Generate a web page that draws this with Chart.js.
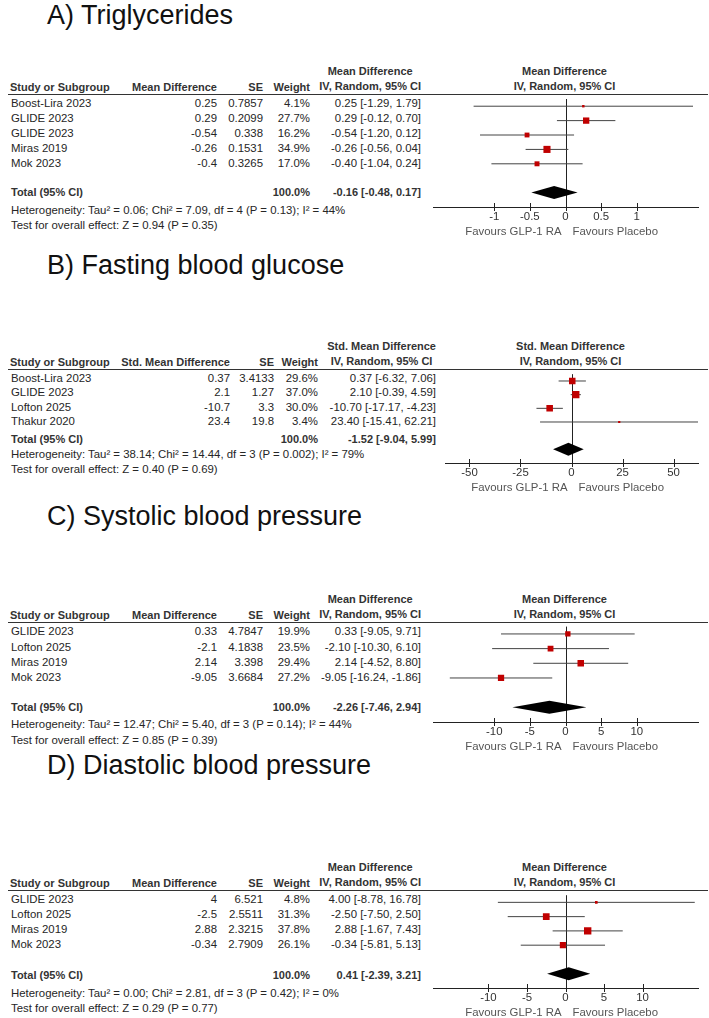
<!DOCTYPE html>
<html>
<head>
<meta charset="utf-8">
<script src="https://cdn.jsdelivr.net/npm/chart.js@4.4.1/dist/chart.umd.min.js"></script>
<style>
  html, body { margin: 0; padding: 0; background: #fff; }
  #page { position: relative; width: 709px; height: 1018px; overflow: hidden;
    font-family: "Liberation Sans", Arial, sans-serif; color: #262626; }
  .t { position: absolute; white-space: nowrap; font-size: 11.4px; line-height: 14px; }
  .b { font-weight: bold; font-size: 11px; color: #333; }
  .hdr { position: absolute; white-space: nowrap; font-weight: bold; font-size: 11px;
    line-height: 15px; color: #333; text-align: center; }
  .title { position: absolute; left: 47px; font-size: 27px; line-height: 27px; color: #111; white-space: nowrap; }
  .rule { position: absolute; left: 8px; width: 700px; height: 1px; background: #333; }
  canvas { position: absolute; left: 420px; }
</style>
</head>
<body>
<div id="page"></div>
<script>
// A) Triglycerides
const studiesA = ['Boost-Lira 2023', 'GLIDE 2023', 'GLIDE 2023', 'Miras 2019', 'Mok 2023'];
const mdA = [0.25, 0.29, -0.54, -0.26, -0.4];
const seA = [0.7857, 0.2099, 0.338, 0.1531, 0.3265];
const weightA = [4.1, 27.7, 16.2, 34.9, 17.0];
const lowerA = [-1.29, -0.12, -1.20, -0.56, -1.04];
const upperA = [1.79, 0.70, 0.12, 0.04, 0.24];
const totalA = [-0.16, -0.48, 0.17];
const hetA = 'Heterogeneity: Tau² = 0.06; Chi² = 7.09, df = 4 (P = 0.13); I² = 44%';
const testA = 'Test for overall effect: Z = 0.94 (P = 0.35)';
const ticksA = [-1, -0.5, 0, 0.5, 1];

// B) Fasting blood glucose
const studiesB = ['Boost-Lira 2023', 'GLIDE 2023', 'Lofton 2025', 'Thakur 2020'];
const smdB = [0.37, 2.1, -10.7, 23.4];
const seB = [3.4133, 1.27, 3.3, 19.8];
const weightB = [29.6, 37.0, 30.0, 3.4];
const lowerB = [-6.32, -0.39, -17.17, -15.41];
const upperB = [7.06, 4.59, -4.23, 62.21];
const totalB = [-1.52, -9.04, 5.99];
const hetB = 'Heterogeneity: Tau² = 38.14; Chi² = 14.44, df = 3 (P = 0.002); I² = 79%';
const testB = 'Test for overall effect: Z = 0.40 (P = 0.69)';
const ticksB = [-50, -25, 0, 25, 50];

// C) Systolic blood pressure
const studiesC = ['GLIDE 2023', 'Lofton 2025', 'Miras 2019', 'Mok 2023'];
const mdC = [0.33, -2.1, 2.14, -9.05];
const seC = [4.7847, 4.1838, 3.398, 3.6684];
const weightC = [19.9, 23.5, 29.4, 27.2];
const lowerC = [-9.05, -10.30, -4.52, -16.24];
const upperC = [9.71, 6.10, 8.80, -1.86];
const totalC = [-2.26, -7.46, 2.94];
const hetC = 'Heterogeneity: Tau² = 12.47; Chi² = 5.40, df = 3 (P = 0.14); I² = 44%';
const testC = 'Test for overall effect: Z = 0.85 (P = 0.39)';
const ticksC = [-10, -5, 0, 5, 10];

// D) Diastolic blood pressure
const studiesD = ['GLIDE 2023', 'Lofton 2025', 'Miras 2019', 'Mok 2023'];
const mdD = [4, -2.5, 2.88, -0.34];
const seD = [6.521, 2.5511, 2.3215, 2.7909];
const weightD = [4.8, 31.3, 37.8, 26.1];
const lowerD = [-8.78, -7.50, -1.67, -5.81];
const upperD = [16.78, 2.50, 7.43, 5.13];
const totalD = [0.41, -2.39, 3.21];
const hetD = 'Heterogeneity: Tau² = 0.00; Chi² = 2.81, df = 3 (P = 0.42); I² = 0%';
const testD = 'Test for overall effect: Z = 0.29 (P = 0.77)';
const ticksD = [-10, -5, 0, 5, 10];

const favours = ['Favours GLP-1 RA', 'Favours Placebo'];
const FONT = '"Liberation Sans", Arial, sans-serif';

const panels = [
  { title: 'A) Triglycerides', titleY: 15, line: 94, axis: 207, totalY: 192, hetY: 209.5, testY: 225,
    measure: 'Mean Difference', studies: studiesA, est: mdA, se: seA, weight: weightA,
    lower: lowerA, upper: upperA, total: totalA, het: hetA, test: testA, ticks: ticksA,
    range: 1.86, plotLeft: 433, cols: { est: 217, se: 263, weight: 310, ci: 421 } },
  { title: 'B) Fasting blood glucose', titleY: 265, line: 369, axis: 463, totalY: 439, hetY: 454, testY: 469,
    measure: 'Std. Mean Difference', studies: studiesB, est: smdB, se: seB, weight: weightB,
    lower: lowerB, upper: upperB, total: totalB, het: hetB, test: testB, ticks: ticksB,
    range: 62, plotLeft: 445, cols: { est: 230, se: 274, weight: 318, ci: 436 } },
  { title: 'C) Systolic blood pressure', titleY: 516, line: 622, axis: 722, totalY: 707, hetY: 724, testY: 740,
    measure: 'Mean Difference', studies: studiesC, est: mdC, se: seC, weight: weightC,
    lower: lowerC, upper: upperC, total: totalC, het: hetC, test: testC, ticks: ticksC,
    range: 18.6, plotLeft: 433, cols: { est: 217, se: 263, weight: 310, ci: 421 } },
  { title: 'D) Diastolic blood pressure', titleY: 765, line: 890, axis: 988, totalY: 975, hetY: 992.5, testY: 1008,
    measure: 'Mean Difference', studies: studiesD, est: mdD, se: seD, weight: weightD,
    lower: lowerD, upper: upperD, total: totalD, het: hetD, test: testD, ticks: ticksD,
    range: 17.2, plotLeft: 433, cols: { est: 217, se: 263, weight: 310, ci: 421 } }
];

const page = document.getElementById('page');

function put(text, x, y, align, cls) {
  const d = document.createElement('div');
  d.className = 't' + (cls ? ' ' + cls : '');
  d.textContent = text;
  d.style.top = (y - 7) + 'px';
  if (align === 'right') d.style.right = (709 - x) + 'px';
  else d.style.left = x + 'px';
  page.appendChild(d);
}

function header(lines, x, y, align) {
  const d = document.createElement('div');
  d.className = 'hdr';
  d.innerHTML = lines.join('<br>');
  d.style.top = (y - 7.5) + 'px';
  if (align === 'right') d.style.right = (709 - x) + 'px';
  else { d.style.left = (x - 100) + 'px'; d.style.width = '200px'; }
  page.appendChild(d);
}

function ciText(e, lo, hi) {
  return e.toFixed(2) + ' [' + lo.toFixed(2) + ', ' + hi.toFixed(2) + ']';
}

function forestDecor(p) {
  return {
    id: 'forestDecor',
    beforeDatasetsDraw(chart) {
      const ctx = chart.ctx, x = chart.scales.x, area = chart.chartArea;
      const x0 = Math.round(x.getPixelForValue(0)) + 0.5;
      ctx.save();
      ctx.strokeStyle = '#222';
      ctx.lineWidth = 1;
      ctx.beginPath();
      ctx.moveTo(x0, area.top);
      ctx.lineTo(x0, area.bottom);
      p.ticks.forEach(v => {
        const px = Math.round(x.getPixelForValue(v)) + 0.5;
        ctx.moveTo(px, area.bottom - 4);
        ctx.lineTo(px, area.bottom + 4);
      });
      ctx.stroke();
      ctx.restore();
    },
    afterDatasetsDraw(chart) {
      const ctx = chart.ctx, x = chart.scales.x, y = chart.scales.y, area = chart.chartArea;
      const [est, lo, hi] = p.total;
      const yc = y.getPixelForValue(p.studies.length + 1);
      ctx.save();
      ctx.fillStyle = '#000';
      ctx.beginPath();
      ctx.moveTo(x.getPixelForValue(lo), yc);
      ctx.lineTo(x.getPixelForValue(est), yc - 6.5);
      ctx.lineTo(x.getPixelForValue(hi), yc);
      ctx.lineTo(x.getPixelForValue(est), yc + 6.5);
      ctx.closePath();
      ctx.fill();
      const x0 = x.getPixelForValue(0);
      ctx.font = '11.4px ' + FONT;
      ctx.fillStyle = '#555';
      ctx.textBaseline = 'middle';
      ctx.textAlign = 'right';
      ctx.fillText(favours[0], x0 - 4, area.bottom + 25);
      ctx.textAlign = 'left';
      ctx.fillText(favours[1], x0 + 7, area.bottom + 25);
      ctx.restore();
    }
  };
}

panels.forEach(p => {
  const n = p.studies.length;
  const pitch = (p.axis - p.line) / (n + 2.5);

  const t = document.createElement('div');
  t.className = 'title';
  t.textContent = p.title;
  t.style.top = (p.titleY - 13.2) + 'px';
  page.appendChild(t);

  const r = document.createElement('div');
  r.className = 'rule';
  r.style.top = Math.round(p.line - 0.5) + 'px';
  page.appendChild(r);

  // table header
  const h2 = p.line - 7.5;
  put('Study or Subgroup', 10, h2, 'left', 'b');
  put(p.measure, p.cols.est, h2, 'right', 'b');
  put('SE', p.cols.se, h2, 'right', 'b');
  put('Weight', p.cols.weight, h2, 'right', 'b');
  header([p.measure, 'IV, Random, 95% CI'], p.cols.ci, p.line - 22.5, 'right');
  header([p.measure, 'IV, Random, 95% CI'], (p.plotLeft + 698) / 2 - 1, p.line - 22.5, 'center');

  // study rows
  p.studies.forEach((s, i) => {
    const yy = p.line + pitch * (i + 0.5) + 1.5;
    put(s, 11, yy, 'left');
    put(String(p.est[i]), p.cols.est, yy, 'right');
    put(String(p.se[i]), p.cols.se, yy, 'right');
    put(p.weight[i].toFixed(1) + '%', p.cols.weight, yy, 'right');
    put(ciText(p.est[i], p.lower[i], p.upper[i]), p.cols.ci, yy, 'right');
  });

  put('Total (95% CI)', 11, p.totalY, 'left', 'b');
  put('100.0%', p.cols.weight, p.totalY, 'right', 'b');
  put(ciText(p.total[0], p.total[1], p.total[2]), p.cols.ci, p.totalY, 'right', 'b');
  put(p.het, 11, p.hetY, 'left');
  put(p.test, 11, p.testY, 'left');

  // forest plot
  const cv = document.createElement('canvas');
  const ch = p.axis - p.line + 36;
  cv.width = 289;
  cv.height = ch;
  cv.style.top = p.line + 'px';
  cv.style.width = '289px';
  cv.style.height = ch + 'px';
  page.appendChild(cv);

  const datasets = [{
    data: p.est.map((v, i) => ({ x: v, y: i })),
    pointStyle: 'rect',
    pointRadius: p.weight.map(w => 1.2 * Math.sqrt(w) / Math.SQRT2),
    pointBorderWidth: 0,
    backgroundColor: '#c00000',
    borderColor: '#c00000'
  }];
  p.studies.forEach((s, i) => {
    datasets.push({
      data: [{ x: p.lower[i], y: i }, { x: p.upper[i], y: i }],
      showLine: true,
      pointRadius: 0,
      borderColor: '#444',
      borderWidth: 1
    });
  });

  new Chart(cv.getContext('2d'), {
    type: 'scatter',
    data: { datasets },
    options: {
      responsive: false,
      animation: false,
      devicePixelRatio: 1,
      events: [],
      layout: { padding: { left: p.plotLeft - 420, right: 11, top: 0, bottom: 0 } },
      plugins: { legend: { display: false }, tooltip: { enabled: false } },
      scales: {
        x: {
          type: 'linear',
          min: -p.range,
          max: p.range,
          afterBuildTicks: s => { s.ticks = p.ticks.map(v => ({ value: v })); },
          afterFit: s => { s.height = 36; },
          grid: { display: false, drawTicks: false },
          border: { display: true, color: '#222', width: 1 },
          ticks: { padding: 3, color: '#333', autoSkip: false, maxRotation: 0,
            font: { family: FONT, size: 11.4 }, callback: v => String(v) }
        },
        y: { type: 'linear', reverse: true, min: -0.5, max: n + 2, display: false }
      }
    },
    plugins: [forestDecor(p)]
  });
});
</script>
</body>
</html>
